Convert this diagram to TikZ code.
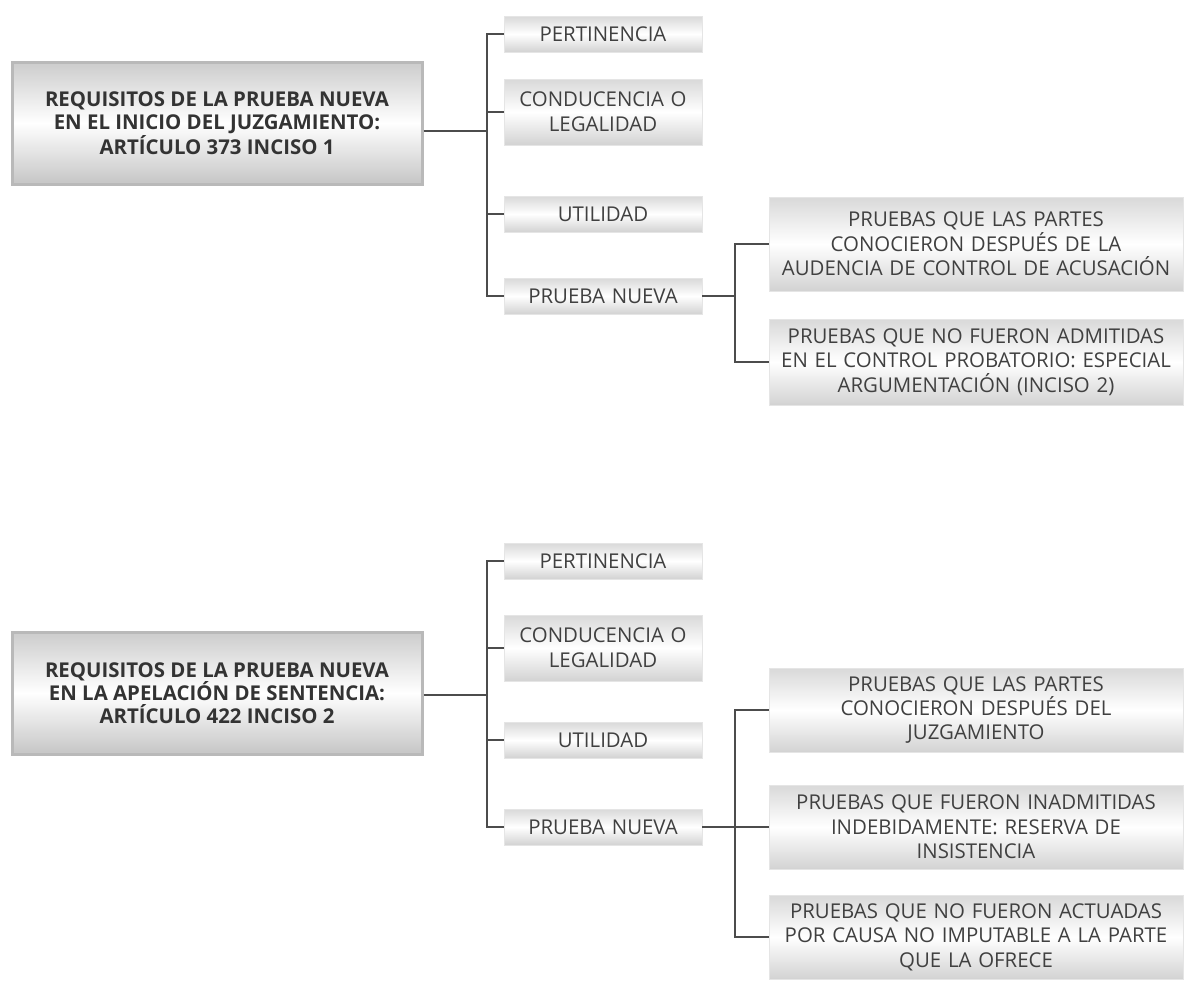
\documentclass[tikz,border=0pt]{standalone}
\usepackage{fontspec}
\setmainfont{Open Sans}
\tikzset{
  mainbox/.style={draw=gray!55, line width=1.5pt, top color=gray!40, bottom color=gray!45, middle color=white,
    minimum width=205pt, minimum height=61pt, align=center, text=black!80,
    font=\fontsize{10.2}{11.6}\selectfont\bfseries},
  itembox/.style={draw=gray!20, line width=0.4pt, top color=gray!30, bottom color=gray!35, middle color=white,
    text width=97pt, align=center, text=black!75, inner sep=1pt,
    font=\fontsize{10.2}{12.5}\selectfont},
  sidebox/.style={draw=gray!20, line width=0.4pt, top color=gray!30, bottom color=gray!35, middle color=white,
    text width=205pt, align=center, text=black!75, inner sep=1pt,
    font=\fontsize{10.2}{12.2}\selectfont},
  link/.style={draw=black!70, line width=0.6pt}
}
\begin{document}
\begin{tikzpicture}[x=0.5pt,y=-0.5pt]
\useasboundingbox (0,0) rectangle (1186,980);

% first chart
\node[mainbox] (req1) at (217,123) {REQUISITOS DE LA PRUEBA NUEVA\\EN EL INICIO DEL JUZGAMIENTO:\\ARTÍCULO 373 INCISO 1};
\node[itembox, minimum height=18pt] (pert1) at (603,34) {PERTINENCIA};
\node[itembox, minimum height=33pt] (cond1) at (603,112) {CONDUCENCIA O\\LEGALIDAD};
\node[itembox, minimum height=18pt] (util1) at (603,214) {UTILIDAD};
\node[itembox, minimum height=18pt] (nueva1) at (603,296) {PRUEBA NUEVA};
\node[sidebox, minimum height=47pt] (conoc1) at (976,244) {PRUEBAS QUE LAS PARTES\\CONOCIERON DESPUÉS DE LA\\AUDENCIA DE CONTROL DE ACUSACIÓN};
\node[sidebox, minimum height=43pt] (noadm1) at (976,362) {PRUEBAS QUE NO FUERON ADMITIDAS\\EN EL CONTROL PROBATORIO: ESPECIAL\\ARGUMENTACIÓN (INCISO 2)};

\coordinate (fork1) at (487,131);
\coordinate (fork2) at (735,296);
\draw[link] (req1.east |- fork1) -- (fork1);
\draw[link] (pert1.west) -| (fork1) |- (nueva1.west);
\draw[link] (fork1 |- cond1.west) -- (cond1.west);
\draw[link] (fork1 |- util1.west) -- (util1.west);
\draw[link] (nueva1.east) -- (fork2);
\draw[link] (conoc1.west) -| (fork2) |- (noadm1.west);

% second chart
\node[mainbox] (req2) at (217,693) {REQUISITOS DE LA PRUEBA NUEVA\\EN LA APELACIÓN DE SENTENCIA:\\ARTÍCULO 422 INCISO 2};
\node[itembox, minimum height=18pt] (pert2) at (603,561) {PERTINENCIA};
\node[itembox, minimum height=33pt] (cond2) at (603,648) {CONDUCENCIA O\\LEGALIDAD};
\node[itembox, minimum height=18pt] (util2) at (603,740) {UTILIDAD};
\node[itembox, minimum height=18pt] (nueva2) at (603,827) {PRUEBA NUEVA};
\node[sidebox, minimum height=42pt] (conoc2) at (976,710) {PRUEBAS QUE LAS PARTES\\CONOCIERON DESPUÉS DEL\\JUZGAMIENTO};
\node[sidebox, minimum height=42pt] (inadm2) at (976,827) {PRUEBAS QUE FUERON INADMITIDAS\\INDEBIDAMENTE: RESERVA DE\\INSISTENCIA};
\node[sidebox, minimum height=42pt] (noact2) at (976,937) {PRUEBAS QUE NO FUERON ACTUADAS\\POR CAUSA NO IMPUTABLE A LA PARTE\\QUE LA OFRECE};

\coordinate (fork3) at (487,695);
\coordinate (fork4) at (735,827);
\draw[link] (req2.east |- fork3) -- (fork3);
\draw[link] (pert2.west) -| (fork3) |- (nueva2.west);
\draw[link] (fork3 |- cond2.west) -- (cond2.west);
\draw[link] (fork3 |- util2.west) -- (util2.west);
\draw[link] (nueva2.east) -- (fork4);
\draw[link] (conoc2.west) -| (fork4) |- (noact2.west);
\draw[link] (fork4) -- (inadm2.west);

\end{tikzpicture}
\end{document}
